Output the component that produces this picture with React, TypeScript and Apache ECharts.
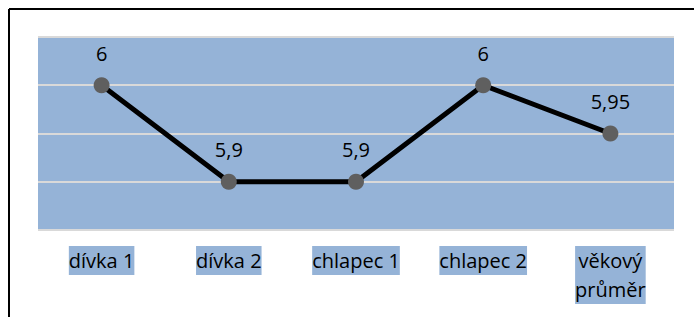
import React, { useEffect, useRef } from "react";
import * as echarts from "echarts";

const categories = ["dívka 1", "dívka 2", "chlapec 1", "chlapec 2", "věkový\nprůměr"];
const values = [6, 5.9, 5.9, 6, 5.95];
const yMin = 5.85;
const yMax = 6.05;
const yInterval = 0.05;

export default function App() {
  const ref = useRef<HTMLDivElement>(null);
  useEffect(() => {
    if (!ref.current) return;
    const chart = echarts.init(ref.current, null, { renderer: "svg" });
    const font = "'Open Sans', 'Noto Sans', sans-serif";
    chart.setOption({
      animation: false,
      backgroundColor: "#ffffff",
      grid: {
        left: 38,
        right: 20,
        top: 37,
        bottom: 87,
        show: true,
        backgroundColor: "#95b3d7",
        borderWidth: 0,
      },
      xAxis: {
        type: "category",
        data: categories,
        boundaryGap: true,
        axisLine: { show: false },
        axisTick: { show: false },
        axisLabel: {
          interval: 0,
          margin: 16,
          color: "#000000",
          fontFamily: font,
          fontSize: 20,
          lineHeight: 29,
          backgroundColor: "#95b3d7",
        },
      },
      yAxis: {
        type: "value",
        min: yMin,
        max: yMax,
        interval: yInterval,
        axisLabel: { show: false },
        axisLine: { show: false },
        axisTick: { show: false },
        splitLine: { show: true, lineStyle: { color: "#d9d9d9", width: 2 } },
      },
      graphic: [
        { type: "line", shape: { x1: 9, y1: 9, x2: 694, y2: 9 }, style: { stroke: "#000", lineWidth: 2 } },
        { type: "line", shape: { x1: 9, y1: 9, x2: 9, y2: 317 }, style: { stroke: "#000", lineWidth: 2 } },
      ],
      series: [
        {
          type: "line",
          data: values,
          symbol: "circle",
          symbolSize: 16,
          lineStyle: { color: "#000000", width: 5 },
          itemStyle: { color: "#5f5f5f" },
          label: {
            show: true,
            position: "top",
            distance: 14,
            color: "#000000",
            fontFamily: font,
            fontSize: 20,
            formatter: (p: any) => String(p.value).replace(".", ","),
          },
        },
      ],
    });
    return () => chart.dispose();
  }, []);
  return (
    <div style={{ position: "fixed", left: 0, top: 0, width: 694, height: 317 }}>
      <div ref={ref} style={{ width: 694, height: 317 }} />
    </div>
  );
}
